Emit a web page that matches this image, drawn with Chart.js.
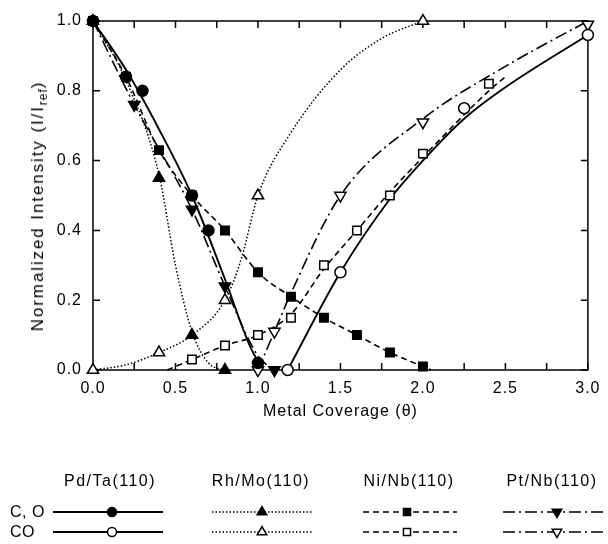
<!DOCTYPE html>
<html>
<head>
    <title>Normalized Intensity vs Metal Coverage</title>
    <style>
        body, html {
            margin: 0;
            padding: 0;
            width: 608px;
            height: 544px;
            background: #fff;
            font-family: "Liberation Sans", Arial, sans-serif;
            overflow: hidden;
        }
        #wrap { position: relative; width: 608px; height: 544px; }
        #chart { position: absolute; left: 0; top: 0; }
        .lbl {
            position: absolute;
            font-size: 16px;
            letter-spacing: 1.5px;
            color: #000;
            white-space: nowrap;
            line-height: 16px;
        }
        .head { transform: translate(-50%, -50%); }
        .row { transform: translate(0, -50%); letter-spacing: 0.5px; }
        #ytitle {
            position: absolute;
            left: 38px;
            top: 206px;
            font-size: 17px;
            letter-spacing: 1.9px;
            white-space: nowrap;
            transform: translate(-50%, -50%) rotate(-90deg);
        }
        #ytitle sub { font-size: 12px; letter-spacing: 1px; vertical-align: -4px; line-height: 0; }
    </style>
</head>
<body>
<div id="wrap">
    <canvas id="chart" width="608" height="544"></canvas>
    <div id="ytitle">Normalized Intensity (I/I<sub>ref</sub>)</div>
    <div class="lbl head" style="left:110px; top:481px;">Pd/Ta(110)</div>
    <div class="lbl head" style="left:261px; top:481px;">Rh/Mo(110)</div>
    <div class="lbl head" style="left:409px; top:481px;">Ni/Nb(110)</div>
    <div class="lbl head" style="left:552px; top:481px;">Pt/Nb(110)</div>
    <div class="lbl row" style="left:10px; top:512px;">C, O</div>
    <div class="lbl row" style="left:10px; top:532px;">CO</div>
</div>

<script src="https://cdn.jsdelivr.net/npm/chart.js"></script>
<script>
// ---- data ----
// markers
const pdTaCOx = [0, 0.2, 0.3, 0.6, 0.7, 1.0];
const pdTaCOy = [1.0, 0.84, 0.80, 0.50, 0.40, 0.02];
const pdTaCOmolx = [1.18, 1.5, 2.25, 3.0];
const pdTaCOmoly = [0.0, 0.28, 0.75, 0.96];

const rhMoCOx = [0, 0.4, 0.6, 0.8];
const rhMoCOy = [1.0, 0.55, 0.10, 0.0];
const rhMoCOmolx = [0, 0.4, 0.8, 1.0, 2.0];
const rhMoCOmoly = [0.0, 0.05, 0.20, 0.50, 1.0];

const niNbCOx = [0, 0.2, 0.4, 0.6, 0.8, 1.0, 1.2, 1.4, 1.6, 1.8, 2.0];
const niNbCOy = [1.0, 0.84, 0.63, 0.50, 0.40, 0.28, 0.21, 0.15, 0.10, 0.05, 0.01];
const niNbCOmolx = [0.6, 0.8, 1.0, 1.2, 1.4, 1.6, 1.8, 2.0, 2.4];
const niNbCOmoly = [0.03, 0.07, 0.10, 0.15, 0.30, 0.40, 0.50, 0.62, 0.82];

const ptNbCOx = [0.25, 0.6, 0.8, 1.1];
const ptNbCOy = [0.76, 0.46, 0.24, 0.0];
const ptNbCOmolx = [1.0, 1.1, 1.5, 2.0, 3.0];
const ptNbCOmoly = [0.0, 0.11, 0.50, 0.71, 0.99];

// fitted curves drawn in the figure
const pdTaFitAx = [0, 0.2, 0.4, 0.6, 0.8, 0.95, 1.03];
const pdTaFitAy = [1.0, 0.86, 0.69, 0.50, 0.26, 0.07, 0.0];
const pdTaFitBx = [1.18, 1.5, 1.8, 2.0, 2.25, 2.5, 3.0];
const pdTaFitBy = [0.0, 0.28, 0.49, 0.60, 0.72, 0.81, 0.96];

const rhMoFitAx = [0, 0.2, 0.4, 0.5, 0.6, 0.7, 0.8];
const rhMoFitAy = [1.0, 0.83, 0.56, 0.30, 0.11, 0.02, 0.0];
const rhMoFitBx = [0, 0.2, 0.4, 0.6, 0.8, 0.9, 1.0, 1.2, 1.5, 1.75, 2.0];
const rhMoFitBy = [0.0, 0.015, 0.05, 0.10, 0.20, 0.32, 0.50, 0.68, 0.86, 0.95, 1.0];

const niNbFitAx = [0, 0.2, 0.4, 0.6, 0.8, 1.0, 1.2, 1.4, 1.6, 1.8, 2.0, 2.05];
const niNbFitAy = [1.0, 0.84, 0.63, 0.50, 0.40, 0.28, 0.21, 0.15, 0.10, 0.05, 0.01, 0.0];
const niNbFitBx = [0.45, 0.6, 0.8, 1.0, 1.2, 1.4, 1.6, 1.8, 2.0, 2.4, 2.5];
const niNbFitBy = [0.0, 0.03, 0.07, 0.10, 0.16, 0.29, 0.40, 0.51, 0.61, 0.80, 0.84];

const ptNbFitAx = [0, 0.25, 0.6, 0.8, 1.0, 1.1];
const ptNbFitAy = [1.0, 0.76, 0.46, 0.24, 0.04, 0.0];
const ptNbFitBx = [1.0, 1.1, 1.2, 1.5, 2.0, 2.5, 3.0];
const ptNbFitBy = [0.0, 0.11, 0.22, 0.50, 0.72, 0.87, 1.0];

// axes
const xTicks = [0, 0.25, 0.5, 0.75, 1.0, 1.25, 1.5, 1.75, 2.0, 2.25, 2.5, 2.75, 3.0];
const yTicks = [0, 0.2, 0.4, 0.6, 0.8, 1.0];

function pts(xs, ys) { return xs.map((x, i) => ({x: x, y: ys[i]})); }

// line styles per system
const styles = {
    pd: {dash: [], width: 1.9},
    rh: {dash: [1.5, 2], width: 1.5},
    ni: {dash: [6, 4], width: 1.6},
    pt: {dash: [12, 4, 2, 4], width: 1.6}
};

function curve(xs, ys, st) {
    return {
        data: pts(xs, ys), showLine: true, pointRadius: 0, pointHoverRadius: 0,
        borderColor: '#000', borderWidth: st.width, borderDash: st.dash,
        cubicInterpolationMode: 'monotone', fill: false, order: 2, clip: false
    };
}
function marks(xs, ys, shape, rot, filled, r) {
    return {
        data: pts(xs, ys), showLine: false, pointStyle: shape, rotation: rot,
        pointRadius: r, pointHoverRadius: r, pointBorderWidth: 1.5,
        pointBorderColor: '#000', pointBackgroundColor: filled ? '#000' : '#fff',
        order: 1, clip: false
    };
}

const datasets = [
    curve(pdTaFitAx, pdTaFitAy, styles.pd),
    curve(pdTaFitBx, pdTaFitBy, styles.pd),
    curve(rhMoFitAx, rhMoFitAy, styles.rh),
    curve(rhMoFitBx, rhMoFitBy, styles.rh),
    curve(niNbFitAx, niNbFitAy, styles.ni),
    curve(niNbFitBx, niNbFitBy, styles.ni),
    curve(ptNbFitAx, ptNbFitAy, styles.pt),
    curve(ptNbFitBx, ptNbFitBy, styles.pt),
    marks(pdTaCOx, pdTaCOy, 'circle', 0, true, 5.5),
    marks(pdTaCOmolx, pdTaCOmoly, 'circle', 0, false, 5.5),
    marks(rhMoCOx, rhMoCOy, 'triangle', 0, true, 6.5),
    marks(rhMoCOmolx, rhMoCOmoly, 'triangle', 0, false, 6.5),
    marks(niNbCOx, niNbCOy, 'rect', 0, true, 6),
    marks(niNbCOmolx, niNbCOmoly, 'rect', 0, false, 6),
    marks(ptNbCOx, ptNbCOy, 'triangle', 180, true, 6.5),
    marks(ptNbCOmolx, ptNbCOmoly, 'triangle', 180, false, 6.5)
];

// legend table below the plot: columns (line start, line end, marker x)
const legendCols = [
    {st: styles.pd, x1: 53, x2: 163, mx: 112, shape: 'circle', rot: 0, r: 4.5},
    {st: styles.rh, x1: 212, x2: 312, mx: 262, shape: 'triangle', rot: 0, r: 5.5},
    {st: styles.ni, x1: 363, x2: 457, mx: 407, shape: 'rect', rot: 0, r: 5},
    {st: styles.pt, x1: 503, x2: 607, mx: 557, shape: 'triangle', rot: 180, r: 5.5}
];
const legendRows = [{y: 512, filled: true}, {y: 532, filled: false}];

const framePlugin = {
    id: 'frame',
    beforeDraw(chart) {
        chart.ctx.letterSpacing = '1px';
    },
    beforeDatasetsDraw(chart) {
        const ctx = chart.ctx, a = chart.chartArea;
        const xs = chart.scales.x, ys = chart.scales.y;
        const t = 7;
        ctx.save();
        ctx.strokeStyle = '#000';
        ctx.lineWidth = 1.5;
        ctx.strokeRect(a.left, a.top, a.right - a.left, a.bottom - a.top);
        ctx.beginPath();
        xTicks.forEach(v => {
            const px = xs.getPixelForValue(v);
            ctx.moveTo(px, a.bottom); ctx.lineTo(px, a.bottom - t);
            ctx.moveTo(px, a.top); ctx.lineTo(px, a.top + t);
        });
        yTicks.forEach(v => {
            const py = ys.getPixelForValue(v);
            ctx.moveTo(a.left, py); ctx.lineTo(a.left + t, py);
            ctx.moveTo(a.right, py); ctx.lineTo(a.right - t, py);
        });
        ctx.stroke();
        ctx.restore();
    },
    afterDraw(chart) {
        const ctx = chart.ctx;
        ctx.save();
        legendCols.forEach(c => {
            legendRows.forEach(row => {
                ctx.strokeStyle = '#000';
                ctx.lineWidth = c.st.width;
                ctx.setLineDash(c.st.dash);
                ctx.beginPath();
                ctx.moveTo(c.x1, row.y);
                ctx.lineTo(c.x2, row.y);
                ctx.stroke();
                ctx.setLineDash([]);
                ctx.fillStyle = row.filled ? '#000' : '#fff';
                ctx.lineWidth = 1.5;
                Chart.helpers.drawPoint(ctx, {pointStyle: c.shape, rotation: c.rot, radius: c.r, borderWidth: 1.5}, c.mx, row.y);
            });
        });
        ctx.restore();
    }
};

new Chart(document.getElementById('chart'), {
    type: 'scatter',
    data: {datasets: datasets},
    options: {
        responsive: false,
        animation: false,
        events: [],
        layout: {padding: {left: 0, top: 21, right: 20, bottom: 118.4}},
        plugins: {legend: {display: false}, tooltip: {enabled: false}},
        scales: {
            x: {
                type: 'linear', min: 0, max: 3,
                grid: {display: false, drawTicks: false},
                border: {display: false},
                afterFit(s) { s.height = 55.6; },
                ticks: {
                    stepSize: 0.5, padding: 9, color: '#000',
                    font: {family: '"Liberation Sans", Arial, sans-serif', size: 16},
                    callback: v => v.toFixed(1)
                },
                title: {
                    display: true, text: 'Metal Coverage (\u03b8)', color: '#000',
                    font: {family: '"Liberation Sans", Arial, sans-serif', size: 16}
                }
            },
            y: {
                type: 'linear', min: 0, max: 1,
                grid: {display: false, drawTicks: false},
                border: {display: false},
                afterFit(s) { s.width = 93; },
                ticks: {
                    stepSize: 0.2, padding: 11, color: '#000',
                    font: {family: '"Liberation Sans", Arial, sans-serif', size: 16},
                    callback: v => v.toFixed(1)
                }
            }
        }
    },
    plugins: [framePlugin]
});
</script>
</body>
</html>
